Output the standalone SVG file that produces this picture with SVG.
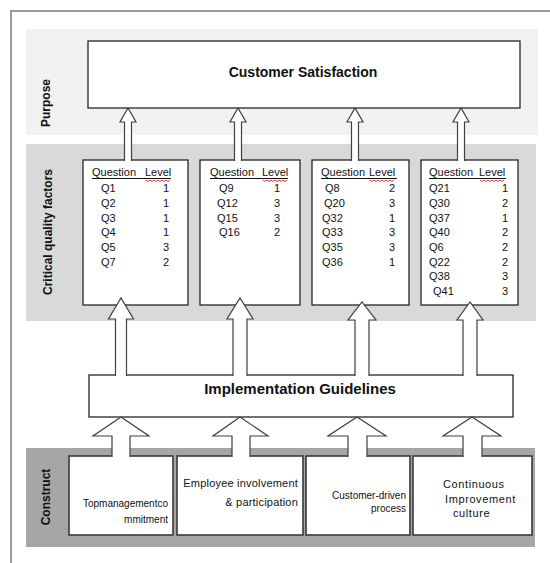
<svg xmlns="http://www.w3.org/2000/svg" width="550" height="563" viewBox="0 0 550 563">
<style>
.box{fill:#fff;stroke:#262626;stroke-width:1.3}
.cbox{fill:#fff;stroke:#3a3a3a;stroke-width:1.6}
.arr{fill:#fff;stroke:#404040;stroke-width:1.2;stroke-linejoin:miter}
.t{font-family:"Liberation Sans",Arial,sans-serif;fill:#111}
.q{font-family:"Liberation Sans",Arial,sans-serif;font-size:11px;fill:#111}
.lv{text-anchor:middle}
.band{font-family:"Liberation Sans",Arial,sans-serif;font-size:12px;font-weight:bold;fill:#111;text-anchor:middle}
.ul{stroke:#111;stroke-width:1}
.sq{fill:none;stroke:#d00;stroke-width:0.8}
</style>

<g id="frame">
<path d="M11,563 L11,11 L550,11" fill="none" stroke="#7a7a7a" stroke-width="1.5"/>
</g>

<g id="bands">
<rect x="26" y="29" width="512" height="106" fill="#f2f2f2"/>
<rect x="26" y="144" width="510" height="177" fill="#d9d9d9"/>
<rect x="26" y="448" width="509" height="99" fill="#a6a6a6"/>
<text class="band" transform="translate(49.5,103) rotate(-90)">Purpose</text>
<text class="band" transform="translate(51.5,232) rotate(-90)">Critical quality factors</text>
<text class="band" transform="translate(49.5,497) rotate(-90)">Construct</text>
</g>

<g id="customer-satisfaction">
<rect class="box" x="88" y="41" width="432" height="67"/>
<text class="t" x="303" y="77" font-size="14" font-weight="bold" text-anchor="middle">Customer Satisfaction</text>
</g>

<g id="cqf-1">
<rect class="box" x="83" y="160" width="105" height="145"/>
<text class="q" x="92" y="176">Question</text><text class="q" x="145" y="176">Level</text>
<line class="ul" x1="92" y1="178.5" x2="171" y2="178.5"/>
<path class="sq" d="M146,180 l2,1.5 l2,-1.5 l2,1.5 l2,-1.5 l2,1.5 l2,-1.5 l2,1.5 l2,-1.5 l2,1.5 l2,-1.5 l2,1.5 l2,-1.5"/>
<text class="q" x="101" y="192">Q1</text><text class="q lv" x="166" y="192">1</text>
<text class="q" x="101" y="206.5">Q2</text><text class="q lv" x="166" y="206.5">1</text>
<text class="q" x="101" y="221.5">Q3</text><text class="q lv" x="166" y="221.5">1</text>
<text class="q" x="101" y="236">Q4</text><text class="q lv" x="166" y="236">1</text>
<text class="q" x="101" y="250.5">Q5</text><text class="q lv" x="166" y="250.5">3</text>
<text class="q" x="101" y="265.5">Q7</text><text class="q lv" x="166" y="265.5">2</text>
</g>

<g id="cqf-2">
<rect class="box" x="200" y="160" width="100" height="145"/>
<text class="q" x="210" y="176">Question</text><text class="q" x="262" y="176">Level</text>
<line class="ul" x1="210" y1="178.5" x2="288" y2="178.5"/>
<path class="sq" d="M263,180 l2,1.5 l2,-1.5 l2,1.5 l2,-1.5 l2,1.5 l2,-1.5 l2,1.5 l2,-1.5 l2,1.5 l2,-1.5 l2,1.5 l2,-1.5"/>
<text class="q" x="219" y="192">Q9</text><text class="q lv" x="277" y="192">1</text>
<text class="q" x="217" y="206.5">Q12</text><text class="q lv" x="277" y="206.5">3</text>
<text class="q" x="217" y="221.5">Q15</text><text class="q lv" x="277" y="221.5">3</text>
<text class="q" x="219" y="236">Q16</text><text class="q lv" x="277" y="236">2</text>
</g>

<g id="cqf-3">
<rect class="box" x="312" y="160" width="97" height="145"/>
<text class="q" x="321" y="176">Question</text><text class="q" x="369" y="176">Level</text>
<line class="ul" x1="321" y1="178.5" x2="397" y2="178.5"/>
<path class="sq" d="M370,180 l2,1.5 l2,-1.5 l2,1.5 l2,-1.5 l2,1.5 l2,-1.5 l2,1.5 l2,-1.5 l2,1.5 l2,-1.5 l2,1.5 l2,-1.5"/>
<text class="q" x="325" y="192">Q8</text><text class="q lv" x="392" y="192">2</text>
<text class="q" x="324" y="206.5">Q20</text><text class="q lv" x="392" y="206.5">3</text>
<text class="q" x="322" y="221.5">Q32</text><text class="q lv" x="392" y="221.5">1</text>
<text class="q" x="322" y="236">Q33</text><text class="q lv" x="392" y="236">3</text>
<text class="q" x="322" y="250.5">Q35</text><text class="q lv" x="392" y="250.5">3</text>
<text class="q" x="322" y="265.5">Q36</text><text class="q lv" x="392" y="265.5">1</text>
</g>

<g id="cqf-4">
<rect class="box" x="421" y="160" width="97" height="145"/>
<text class="q" x="429" y="176">Question</text><text class="q" x="479" y="176">Level</text>
<line class="ul" x1="429" y1="178.5" x2="506" y2="178.5"/>
<path class="sq" d="M480,180 l2,1.5 l2,-1.5 l2,1.5 l2,-1.5 l2,1.5 l2,-1.5 l2,1.5 l2,-1.5 l2,1.5 l2,-1.5 l2,1.5 l2,-1.5"/>
<text class="q" x="429" y="192">Q21</text><text class="q lv" x="505" y="192">1</text>
<text class="q" x="429" y="206.5">Q30</text><text class="q lv" x="505" y="206.5">2</text>
<text class="q" x="429" y="221.5">Q37</text><text class="q lv" x="505" y="221.5">1</text>
<text class="q" x="429" y="236">Q40</text><text class="q lv" x="505" y="236">2</text>
<text class="q" x="429" y="250.5">Q6</text><text class="q lv" x="505" y="250.5">2</text>
<text class="q" x="429" y="265.5">Q22</text><text class="q lv" x="505" y="265.5">2</text>
<text class="q" x="429" y="280">Q38</text><text class="q lv" x="505" y="280">3</text>
<text class="q" x="433" y="295">Q41</text><text class="q lv" x="505" y="295">3</text>
</g>

<g id="implementation-guidelines">
<rect class="box" x="89" y="375" width="424" height="42"/>
<text class="t" x="300" y="394" font-size="15" font-weight="bold" text-anchor="middle">Implementation Guidelines</text>
</g>

<g id="construct-1">
<rect class="cbox" x="69" y="456" width="104" height="79"/>
<text class="t" font-size="10" text-anchor="end"><tspan x="168" y="507">Topmanagementco</tspan><tspan x="168" y="523">mmitment</tspan></text>
</g>
<g id="construct-2">
<rect class="cbox" x="177" y="456" width="126" height="79"/>
<text class="t" font-size="11" text-anchor="end" letter-spacing="0.2"><tspan x="298" y="487">Employee involvement</tspan><tspan x="298" y="506">&amp; participation</tspan></text>
</g>
<g id="construct-3">
<rect class="cbox" x="306" y="456" width="104" height="79"/>
<text class="t" font-size="10" text-anchor="end"><tspan x="406" y="499">Customer-driven</tspan><tspan x="406" y="511.5">process</tspan></text>
</g>
<g id="construct-4">
<rect class="cbox" x="413" y="456" width="119" height="79"/>
<text class="t" font-size="11" letter-spacing="0.6"><tspan x="443" y="488">Continuous</tspan><tspan x="445" y="503">Improvement</tspan><tspan x="453" y="517">culture</tspan></text>
</g>

<g id="connectors">
<!-- CQF boxes to Customer Satisfaction -->
<path class="arr" d="M124.5,161 L124.5,122 L120,122 L128,108 L136,122 L131.5,122 L131.5,161"/>
<path class="arr" d="M234.5,161 L234.5,122 L230,122 L238,108 L246,122 L241.5,122 L241.5,161"/>
<path class="arr" d="M351.5,161 L351.5,122 L347,122 L355,108 L363,122 L358.5,122 L358.5,161"/>
<path class="arr" d="M457.5,161 L457.5,122 L453,122 L461,108 L469,122 L464.5,122 L464.5,161"/>
<!-- Implementation Guidelines to CQF boxes -->
<path class="arr" d="M115.5,376 L115.5,319 L108.5,319 L121,298 L133.5,319 L126.5,319 L126.5,376"/>
<path class="arr" d="M233,376 L233,319 L227,319 L240,298 L253,319 L247,319 L247,376"/>
<path class="arr" d="M355,376 L355,320 L348,320 L362,302 L376,320 L369,320 L369,376"/>
<path class="arr" d="M463,376 L463,320 L457,320 L470,302 L483,320 L477,320 L477,376"/>
<!-- Constructs to Implementation Guidelines -->
<path class="arr" d="M112,457 L112,436 L93,436 L121,417 L149,436 L130,436 L130,457"/>
<path class="arr" d="M232,457 L232,436 L213,436 L240,417 L268,436 L250,436 L250,457"/>
<path class="arr" d="M348,457 L348,436 L328,436 L357,417 L386,436 L367,436 L367,457"/>
<path class="arr" d="M463,457 L463,436 L443,436 L472,417 L501,436 L482,436 L482,457"/>
</g>
</svg>
